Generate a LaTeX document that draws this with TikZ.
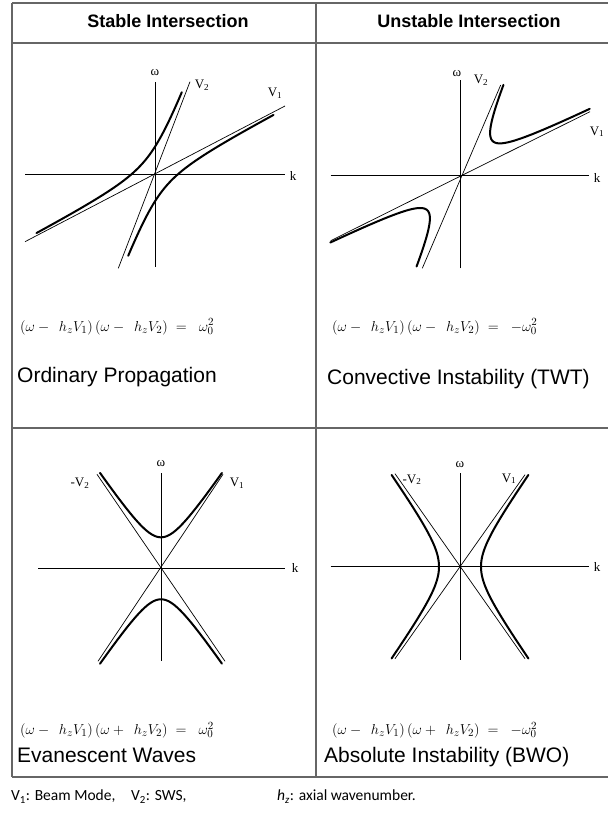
\documentclass[tikz,border=0pt]{standalone}
\usepackage[no-math]{fontspec}
\newfontfamily\headfont{Liberation Sans}
\newfontfamily\plotfont{Liberation Serif}
\newfontfamily\notefont{Carlito}
\usepackage{tikz}

\begin{document}
\begin{tikzpicture}[
  x=1pt, y=1pt,
  tabline/.style={draw=black!60, line width=1.3pt},
  thinline/.style={line width=0.7pt},
  branch/.style={line width=2pt, line cap=round},
  lbl/.style={font=\plotfont\fontsize{13}{15}\selectfont, inner sep=0pt},
  head/.style={font=\headfont\bfseries\fontsize{18}{20}\selectfont, anchor=base, inner sep=0pt},
  captext/.style={font=\headfont\fontsize{21}{24}\selectfont, anchor=base west, inner sep=0pt},
  eqn/.style={font=\fontsize{15}{17}\selectfont, anchor=west, inner sep=0pt},
  note/.style={font=\notefont\fontsize{15.5}{18}\selectfont, anchor=base west, inner sep=0pt}
]
\useasboundingbox (0,0) rectangle (608,816);

% table
\draw[tabline] (12,813) -- (608,813);
\draw[tabline] (12,773) -- (608,773);
\draw[tabline] (12,388) -- (608,388);
\draw[tabline] (12,39) -- (608,39);
\draw[tabline] (12,813) -- (12,39);
\draw[tabline] (316,813) -- (316,39);

\node[head] (hstable) at (168,788) {Stable Intersection};
\node[head] (hunstable) at (469,788) {Unstable Intersection};

% ordinary propagation
\begin{scope}[shift={(155,642)}]
  \draw[thinline] (0,-92.7) -- (0,92.3);
  \draw[thinline] (-130,0) -- (130,0);
  \draw[thinline] (-130,-67.7) -- (130,68);
  \draw[thinline] (-36.7,-94.3) -- (35,92.3);
  \draw[branch] plot[domain=-2.23:0.91, samples=80, variable=\t]
    ({25.79*sinh(\t)}, {27.3*exp(\t)+13.49*sinh(\t)});
  \draw[branch, rotate=180] plot[domain=-2.23:0.91, samples=80, variable=\t]
    ({25.79*sinh(\t)}, {27.3*exp(\t)+13.49*sinh(\t)});
  \node[lbl] (om1) at (0,101) {ω};
  \node[lbl] (k1) at (138,-2) {k};
  \node[lbl] (vb1) at (47,89) {V\textsubscript{2}};
  \node[lbl] (va1) at (120,81) {V\textsubscript{1}};
\end{scope}

% convective instability
\begin{scope}[shift={(460,640.3)}]
  \draw[thinline] (0,-92.6) -- (0,95.7);
  \draw[thinline] (-129.3,0) -- (129,0);
  \draw[thinline] (-129.3,-65) -- (130,64);
  \draw[thinline] (-37.7,-92.6) -- (40.7,90.7);
  \draw[branch] plot[domain=-2.14:0.91, samples=80, variable=\t]
    ({30.11*cosh(\t)}, {28*exp(\t)+14.75*cosh(\t)});
  \draw[branch, rotate=180] plot[domain=-2.14:0.91, samples=80, variable=\t]
    ({30.11*cosh(\t)}, {28*exp(\t)+14.75*cosh(\t)});
  \node[lbl] (om2) at (-3,102) {ω};
  \node[lbl] (k2) at (137,-2) {k};
  \node[lbl] (vb2) at (21,95) {V\textsubscript{2}};
  \node[lbl] (va2) at (137,44) {V\textsubscript{1}};
\end{scope}

% evanescent waves
\begin{scope}[shift={(161,247.7)}]
  \draw[thinline] (0,-92.4) -- (0,95);
  \draw[thinline] (-122.7,0) -- (124,0);
  \draw[thinline] (-63,-93) -- (62,94);
  \draw[thinline] (-64,94) -- (64,-93);
  \draw[branch] plot[domain=-1.79:1.79, samples=80, variable=\t]
    ({20.95*sinh(\t)}, {31*cosh(\t)});
  \draw[branch, yscale=-1] plot[domain=-1.79:1.79, samples=80, variable=\t]
    ({20.95*sinh(\t)}, {31*cosh(\t)});
  \node[lbl] (om3) at (0,105) {ω};
  \node[lbl] (k3) at (134,0) {k};
  \node[lbl] (vb3) at (-81,85) {-V\textsubscript{2}};
  \node[lbl] (va3) at (76,85) {V\textsubscript{1}};
\end{scope}

% absolute instability
\begin{scope}[shift={(460,249.3)}]
  \draw[thinline] (0,-93.3) -- (0,93.4);
  \draw[thinline] (-129.3,0) -- (129,0);
  \draw[thinline] (-65,-92) -- (65,92);
  \draw[thinline] (-65,93) -- (65,-92);
  \draw[branch] plot[domain=-1.85:1.85, samples=80, variable=\t]
    ({21*cosh(\t)}, {29.6*sinh(\t)});
  \draw[branch, xscale=-1] plot[domain=-1.85:1.85, samples=80, variable=\t]
    ({21*cosh(\t)}, {29.6*sinh(\t)});
  \node[lbl] (om4) at (0,102) {ω};
  \node[lbl] (k4) at (137,0) {k};
  \node[lbl] (vb4) at (-48,87) {-V\textsubscript{2}};
  \node[lbl] (va4) at (49,88) {V\textsubscript{1}};
\end{scope}

\node[eqn] (eq1) at (20,489.3) {$(\omega-\;\,h_zV_1)\,(\omega-\;\,h_zV_2)\;=\;\;\omega_0^2$};
\node[eqn] (eq2) at (332,489.3) {$(\omega-\;\,h_zV_1)\,(\omega-\;\,h_zV_2)\;=\;\;-\omega_0^2$};
\node[eqn] (eq3) at (20,86) {$(\omega-\;\,h_zV_1)\,(\omega+\;\,h_zV_2)\;=\;\;\omega_0^2$};
\node[eqn] (eq4) at (332,86) {$(\omega-\;\,h_zV_1)\,(\omega+\;\,h_zV_2)\;=\;\;-\omega_0^2$};

\node[captext] (cap1) at (17,433) {Ordinary Propagation};
\node[captext] (cap2) at (327,431) {Convective Instability (TWT)};
\node[captext] (cap3) at (17,53) {Evanescent Waves};
\node[captext] (cap4) at (324,53) {Absolute Instability (BWO)};

\node[note] (n1) at (11,15) {V\textsubscript{1}: Beam Mode,};
\node[note] (n2) at (131,15) {V\textsubscript{2}: SWS,};
\node[note] (n3) at (277,15) {\textit{h\textsubscript{z}}: axial wavenumber.};

\end{tikzpicture}
\end{document}
